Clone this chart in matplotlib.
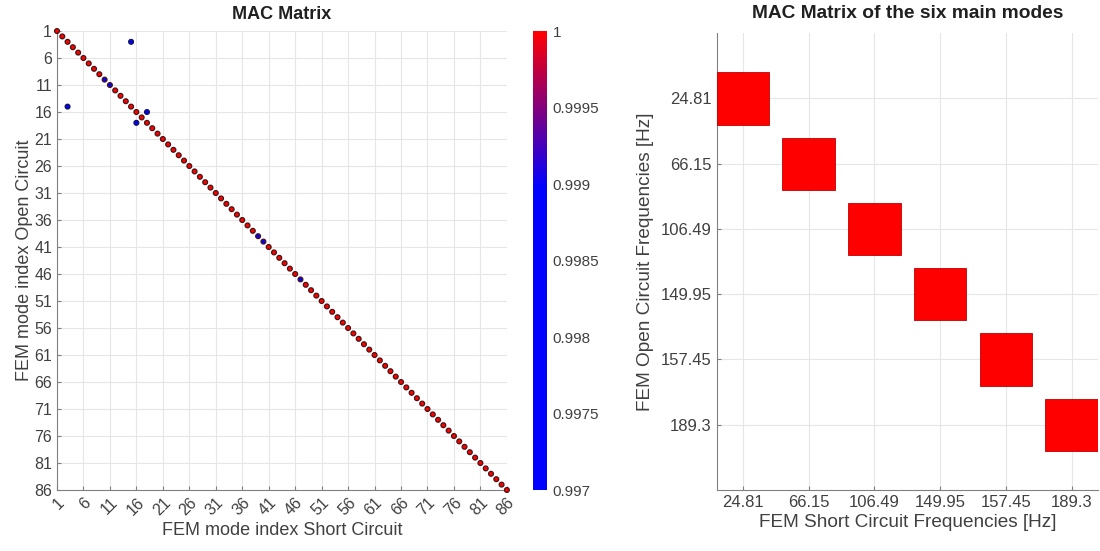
import matplotlib
matplotlib.use("Agg")
import matplotlib.pyplot as plt
import numpy as np
from matplotlib.colors import LinearSegmentedColormap, Normalize
from matplotlib.patches import Rectangle

plt.rcParams['font.family'] = ['Liberation Sans', 'DejaVu Sans']

# ---- data ----
n_modes = 86
mode_ticks = list(range(1, 87, 5))
# diagonal MAC values (1 everywhere, a few slightly lower)
mac_diag = np.ones(n_modes)
low_modes = [10, 11, 39, 40, 47]
low_vals = [0.9985, 0.9985, 0.9986, 0.9986, 0.9987]
# off-diagonal entries that show up
off_sc = [15, 3, 16, 18]
off_oc = [3, 15, 18, 16]
off_mac = [0.997, 0.997, 0.997, 0.997]

freqs = ['24.81', '66.15', '106.49', '149.95', '157.45', '189.3']
mac_six = [1.0, 1.0, 1.0, 1.0, 1.0, 1.0]

for m, v in zip(low_modes, low_vals):
    mac_diag[m - 1] = v

cmap = LinearSegmentedColormap.from_list('br', [(0, (0, 0, 1)), (0.66, (0, 0, 1)), (1, (1, 0, 0))])
norm = Normalize(0.997, 1.0)
txt = '#404040'
spine = '#808080'
grid = '#e6e6e6'

fig = plt.figure(figsize=(11, 5.51), dpi=100)

# ---- left: full MAC ----
ax = fig.add_axes([0.0518, 0.1107, 0.409, 0.833])
idx = np.arange(1, n_modes + 1)
ax.scatter(idx, idx, c=mac_diag, cmap=cmap, norm=norm, s=12, marker='o',
           edgecolors='#4a1414', linewidths=0.9, clip_on=False, zorder=3)
ax.scatter(off_sc, off_oc, c=off_mac, cmap=cmap, norm=norm, s=12, marker='o',
           edgecolors='#141450', linewidths=0.9, clip_on=False, zorder=3)
ax.set_xlim(1, 86)
ax.set_ylim(86, 1)
ax.set_xticks(mode_ticks)
ax.set_yticks(mode_ticks)
ax.set_xticklabels([str(t) for t in mode_ticks], rotation=45, ha='right', va='top',
                   rotation_mode='anchor')
ax.grid(True, color=grid, lw=0.8)
ax.set_axisbelow(True)
ax.set_title('MAC Matrix', fontsize=13, fontweight='bold', color='#202020', pad=9)
ax.set_xlabel('FEM mode index Short Circuit', fontsize=13, color=txt, labelpad=3)
ax.set_ylabel('FEM mode index Open Circuit', fontsize=13, color=txt, labelpad=1)

cax = fig.add_axes([0.4845, 0.1107, 0.0127, 0.833])
cb = fig.colorbar(plt.cm.ScalarMappable(norm=norm, cmap=cmap), cax=cax)
cb.set_ticks([0.997, 0.9975, 0.998, 0.9985, 0.999, 0.9995, 1.0])
cb.set_ticklabels(['0.997', '0.9975', '0.998', '0.9985', '0.999', '0.9995', '1'])
cb.outline.set_visible(False)
cax.tick_params(length=0, labelsize=11, colors=txt, pad=4)

# ---- right: six main modes ----
ax2 = fig.add_axes([0.6515, 0.1107, 0.3466, 0.829])
for i, v in enumerate(mac_six):
    ax2.add_patch(Rectangle((i + 1 - 0.4, i + 1 - 0.4), 0.8, 0.8,
                            facecolor=cmap(norm(v)), edgecolor='#c00000', lw=0.6, zorder=3))
ax2.set_xlim(0.6, 6.4)
ax2.set_ylim(7, 0)
ax2.set_xticks(range(1, 7))
ax2.set_yticks(range(1, 7))
ax2.set_xticklabels(freqs)
ax2.set_yticklabels(freqs)
ax2.grid(True, color=grid, lw=0.8)
ax2.set_axisbelow(True)
ax2.set_title('MAC Matrix of the six main modes', fontsize=13.8, fontweight='bold', color='#202020', pad=11)
ax2.set_xlabel('FEM Short Circuit Frequencies [Hz]', fontsize=13.7, color=txt, labelpad=3)
ax2.set_ylabel('FEM Open Circuit Frequencies [Hz]', fontsize=13.7, color=txt, labelpad=5)

for a in (ax, ax2):
    for s in ('top', 'right'):
        a.spines[s].set_visible(False)
    for s in ('left', 'bottom'):
        a.spines[s].set_color(spine)
    a.tick_params(direction='in', length=3, colors=spine, labelcolor=txt, labelsize=11.5)
ax2.tick_params(labelsize=12)

fig.savefig('out.png', dpi=100)
